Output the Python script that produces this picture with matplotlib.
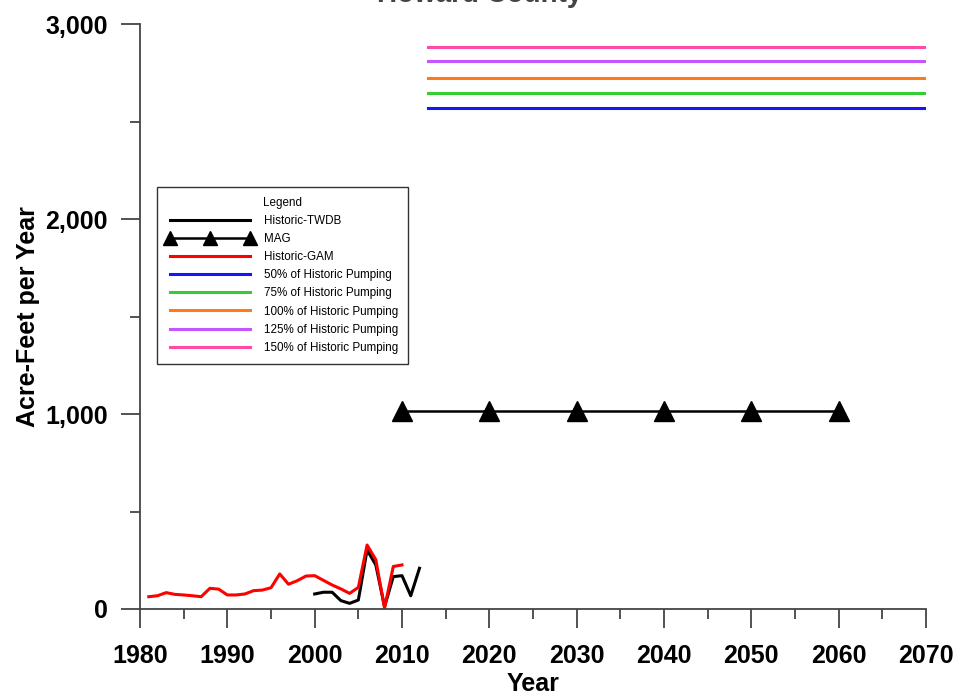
import numpy as np
import matplotlib
matplotlib.use('Agg')
import matplotlib.pyplot as plt
from matplotlib.ticker import MultipleLocator, FuncFormatter

plt.rcParams['font.family'] = ['Liberation Sans', 'DejaVu Sans']

# pumping history and projections (acre-feet per year)
gam_years = list(range(1981, 2011))
gam_values = [63, 68, 84, 75, 72, 68, 63, 106, 102, 72,
              72, 77, 94, 97, 109, 180, 127, 145, 169, 171,
              147, 123, 103, 80, 111, 328, 253, 5, 218, 226]

twdb_years = list(range(2000, 2013))
twdb_values = [77, 86, 86, 43, 29, 46, 303, 226, 12, 166, 171, 68, 209]

mag_years = [2010, 2020, 2030, 2040, 2050, 2060]
mag_values = [1015, 1015, 1015, 1015, 1015, 1015]

scenario_years = [2013, 2070]
scenario_labels = ['50% of Historic Pumping', '75% of Historic Pumping',
                   '100% of Historic Pumping', '125% of Historic Pumping',
                   '150% of Historic Pumping']
scenario_values = [2568, 2648, 2725, 2810, 2884]
scenario_colors = ['#1414ff', '#36cc36', '#ff7a1a', '#c455ff', '#ff4aa8']

fig = plt.figure(figsize=(9.59, 6.96), dpi=100)
ax = fig.add_axes([0.146, 0.125, 0.8196, 0.8405])

ax.plot(twdb_years, twdb_values, color='black', lw=2.2, label='Historic-TWDB')
ax.plot(mag_years, mag_values, color='black', lw=1.8, marker='^', ms=14,
        clip_on=False, label='MAG')
ax.plot(gam_years, gam_values, color='#ff0000', lw=2.2, label='Historic-GAM')
for lab, val, col in zip(scenario_labels, scenario_values, scenario_colors):
    ax.plot(scenario_years, [val, val], color=col, lw=2.2, label=lab)

ax.set_xlim(1980, 2070)
ax.set_ylim(0, 3000)
ax.xaxis.set_major_locator(MultipleLocator(10))
ax.xaxis.set_minor_locator(MultipleLocator(5))
ax.yaxis.set_major_locator(MultipleLocator(1000))
ax.yaxis.set_minor_locator(MultipleLocator(500))
ax.yaxis.set_major_formatter(FuncFormatter(lambda v, p: f'{int(v):,}'))

for s in ['top', 'right']:
    ax.spines[s].set_visible(False)
for s in ['left', 'bottom']:
    ax.spines[s].set_color('#444444')
    ax.spines[s].set_linewidth(1.3)
ax.tick_params(which='major', direction='out', length=14, width=1.3,
               color='#444444', labelsize=18, pad=9)
ax.tick_params(axis='x', which='major', pad=11)
ax.tick_params(which='minor', direction='out', length=7, width=1.3,
               color='#444444')
for t in ax.get_xticklabels() + ax.get_yticklabels():
    t.set_fontweight('bold')

ax.set_xlabel('Year', fontsize=18, fontweight='bold', labelpad=3)
ax.set_ylabel('Acre-Feet per Year', fontsize=18, fontweight='bold', labelpad=4)

# title sits mostly above the top edge of the figure
fig.text(0.5, 1 - 2 / 696, 'Howard County', ha='center', va='baseline',
         fontsize=20, fontweight='bold', color='#444444')

leg = ax.legend(loc='upper left', bbox_to_anchor=(0.0216, 0.721),
                borderaxespad=0, fontsize=8.4, title='Legend', title_fontsize=8.4,
                frameon=True, fancybox=False, edgecolor='black',
                handlelength=7.4, handletextpad=0.9, labelspacing=0.52,
                numpoints=3, markerscale=0.7, borderpad=0.85)
leg.get_frame().set_linewidth(1.0)

fig.savefig('out.png', dpi=100)
